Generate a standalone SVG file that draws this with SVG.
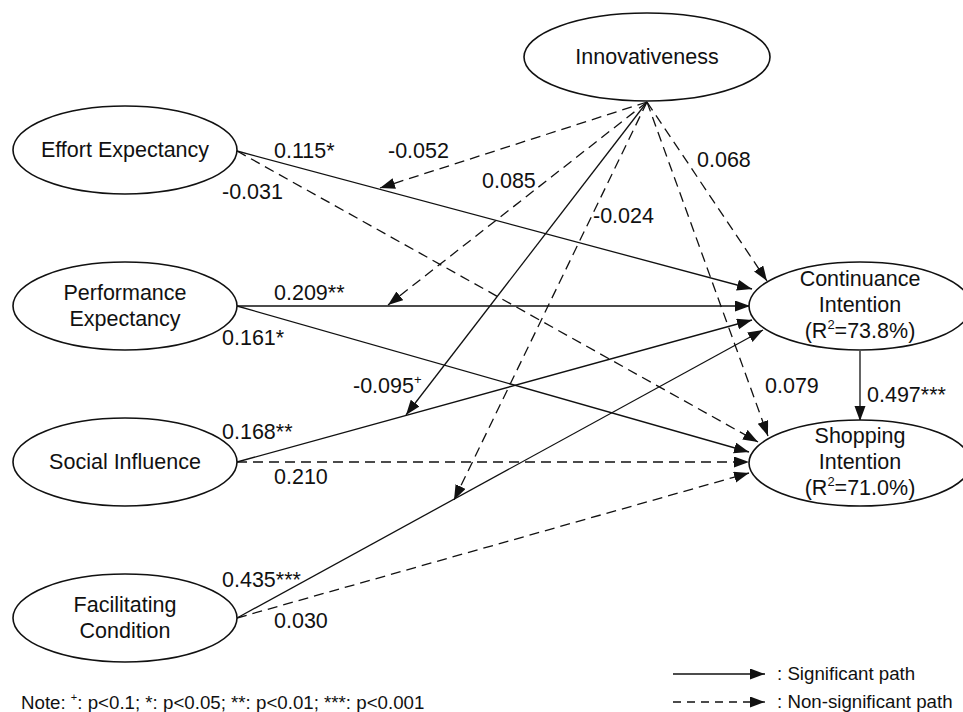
<svg xmlns="http://www.w3.org/2000/svg" width="963" height="712" viewBox="0 0 963 712">
<style>
text{font-family:"Liberation Sans",Arial,sans-serif;font-size:21.5px;fill:#111}
.node ellipse{fill:#fff;stroke:#111;stroke-width:1.6}
.c{text-anchor:middle}
.s{fill:none;stroke:#111;stroke-width:1.3;marker-end:url(#ah)}
.d{fill:none;stroke:#111;stroke-width:1.3;stroke-dasharray:10 6;marker-end:url(#ah)}
.sm{font-size:18.7px}
</style>
<defs>
<marker id="ah" markerUnits="userSpaceOnUse" markerWidth="16" markerHeight="12" refX="15" refY="5.5" orient="auto">
<path d="M0,0 L15,5.5 L0,11 z" fill="#111"/>
</marker>
</defs>
<g id="connectors">
<line class="s" x1="237" y1="151" x2="752" y2="289"/>
<line class="d" x1="237" y1="151" x2="758" y2="442"/>
<line class="s" x1="237" y1="306" x2="750" y2="306"/>
<line class="s" x1="237" y1="306" x2="749" y2="452"/>
<line class="s" x1="237" y1="462" x2="752" y2="320"/>
<line class="d" x1="237" y1="462" x2="749" y2="462"/>
<line class="s" x1="237" y1="618" x2="763" y2="330"/>
<line class="d" x1="237" y1="618" x2="749" y2="473"/>
<line class="s" x1="860" y1="351" x2="860" y2="421"/>
<line class="d" x1="647" y1="102" x2="380" y2="188"/>
<line class="d" x1="647" y1="102" x2="388" y2="305"/>
<line class="s" x1="647" y1="102" x2="406" y2="415"/>
<line class="d" x1="647" y1="102" x2="454" y2="500"/>
<line class="d" x1="647" y1="102" x2="767" y2="281"/>
<line class="d" x1="647" y1="102" x2="768" y2="436"/>
</g>
<g id="innovativeness" class="node"><ellipse cx="647" cy="57" rx="123" ry="44"/><text class="c" x="647" y="64">Innovativeness</text></g>
<g id="effort" class="node"><ellipse cx="125" cy="150" rx="112" ry="44"/><text class="c" x="125" y="157">Effort Expectancy</text></g>
<g id="performance" class="node"><ellipse cx="125" cy="306" rx="112" ry="44"/><text class="c" x="125" y="300">Performance</text><text class="c" x="125" y="326">Expectancy</text></g>
<g id="social" class="node"><ellipse cx="125" cy="462" rx="112" ry="44"/><text class="c" x="125" y="469">Social Influence</text></g>
<g id="facilitating" class="node"><ellipse cx="125" cy="618" rx="112" ry="44"/><text class="c" x="125" y="612">Facilitating</text><text class="c" x="125" y="638">Condition</text></g>
<g id="continuance" class="node"><ellipse cx="860" cy="306" rx="111" ry="44"/><text class="c" x="860" y="286">Continuance</text><text class="c" x="860" y="312">Intention</text><text class="c" x="860" y="338">(R<tspan font-size="13" dy="-9">2</tspan><tspan dy="9">=73.8%)</tspan></text></g>
<g id="shopping" class="node"><ellipse cx="860" cy="463" rx="111" ry="43"/><text class="c" x="860" y="443">Shopping</text><text class="c" x="860" y="469">Intention</text><text class="c" x="860" y="495">(R<tspan font-size="13" dy="-9">2</tspan><tspan dy="9">=71.0%)</tspan></text></g>
<g id="labels">
<text x="274" y="158">0.115*</text>
<text x="388" y="158">-0.052</text>
<text x="222" y="199">-0.031</text>
<text x="482" y="188">0.085</text>
<text x="593" y="223">-0.024</text>
<text x="697" y="167">0.068</text>
<text x="274" y="300">0.209**</text>
<text x="222" y="345">0.161*</text>
<text x="353" y="393">-0.095<tspan font-size="13" dy="-9">+</tspan></text>
<text x="222" y="439">0.168**</text>
<text x="274" y="484">0.210</text>
<text x="222" y="587">0.435***</text>
<text x="274" y="628">0.030</text>
<text x="765" y="393">0.079</text>
<text x="867" y="402">0.497***</text>
</g>
<g id="legend">
<line class="s" x1="673" y1="674" x2="765" y2="674"/>
<line class="d" style="stroke-dasharray:8 6" x1="673" y1="702" x2="765" y2="702"/>
<text class="sm" x="777" y="680">: Significant path</text>
<text class="sm" x="777" y="708">: Non-significant path</text>
<text class="sm" x="21" y="709">Note: <tspan font-size="11" dy="-8">+</tspan><tspan dy="8">: p&lt;0.1; *: p&lt;0.05; **: p&lt;0.01; ***: p&lt;0.001</tspan></text>
</g>
</svg>
